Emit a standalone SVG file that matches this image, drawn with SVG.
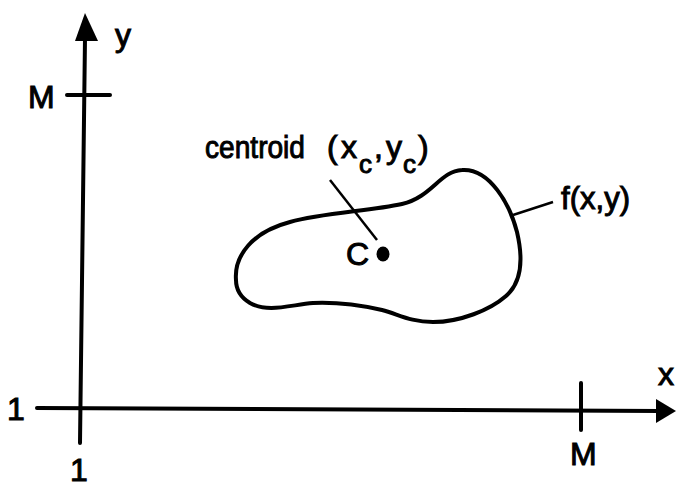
<svg xmlns="http://www.w3.org/2000/svg" width="676" height="484" viewBox="0 0 676 484">
<style>
text{font-family:"Liberation Sans",Arial,sans-serif;font-size:32px;fill:#000;stroke:#000;stroke-width:1}
.ln{stroke:#000;stroke-width:4;fill:none;stroke-linecap:round}
.thin{stroke:#000;stroke-width:2.5;fill:none}
.sub{font-size:26px}
</style>
<rect width="676" height="484" fill="#fff"/>
<g id="connectors">
<line class="ln" x1="85" y1="38" x2="80" y2="443"/>
<polygon points="85,13 75,41 98,41" fill="#000"/>
<line class="ln" x1="37" y1="408" x2="660" y2="411"/>
<polygon points="676,411 656,399 656,423" fill="#000"/>
<line class="ln" x1="67" y1="95" x2="110" y2="95"/>
<line class="ln" x1="581" y1="383" x2="581" y2="430"/>
<line class="thin" x1="330" y1="180" x2="377" y2="240"/>
<line class="thin" x1="513" y1="215" x2="553" y2="202"/>
</g>
<g id="region">
<path class="ln" d="M 236,280 C 234,256 252,232 290,222 C 322,213 370,211 402,204 C 432,197 440,171 462,170 C 490,168 510,205 517,232 C 524,262 520,284 506,296 C 490,310 460,322 433,322 C 410,322 398,314 382,310 C 360,305 336,302 313,303 C 290,305 268,313 250,303 C 240,297 236,290 236,280 Z"/>
</g>
<g id="centroid">
<ellipse cx="383" cy="254" rx="6.5" ry="7.5" fill="#000"/>
<text x="346" y="265">C</text>
<text y="158"><tspan x="205" textLength="100" lengthAdjust="spacingAndGlyphs">centroid</tspan><tspan x="327">(</tspan><tspan x="341">x</tspan><tspan class="sub" x="359" y="173">c</tspan><tspan x="374" y="158">,</tspan><tspan x="386">y</tspan><tspan class="sub" x="403" y="173">c</tspan><tspan x="418" y="158">)</tspan></text>
</g>
<g id="labels">
<text x="561" y="209" textLength="69" lengthAdjust="spacingAndGlyphs">f(x,y)</text>
<text x="115" y="46">y</text>
<text x="28" y="108">M</text>
<text x="7" y="420">1</text>
<text x="70" y="481">1</text>
<text x="570" y="465">M</text>
<text x="658" y="385">x</text>
</g>
</svg>
